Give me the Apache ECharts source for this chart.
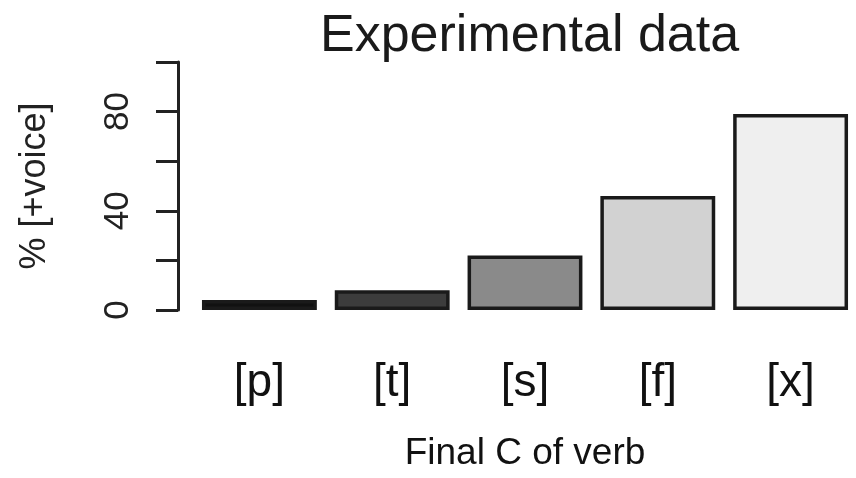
<!DOCTYPE html>
<html>
<head>
<meta charset="utf-8">
<script src="https://cdn.jsdelivr.net/npm/echarts@6/dist/echarts.min.js"></script>
<style>
html,body{margin:0;padding:0;background:#fff;}
#chart{width:856px;height:478px;}
</style>
</head>
<body>
<div id="chart"></div>
<script>
const categories = ['[p]', '[t]', '[s]', '[f]', '[x]'];
const values = [4, 8, 22, 46, 79];
const barColors = ['#111111', '#3c3c3c', '#8a8a8a', '#d2d2d2', '#efefef'];
const yTicksShown = [0, 40, 80];
const titleText = 'Experimental data';
const xName = 'Final C of verb';
const yName = '% [+voice]';

const chart = echarts.init(document.getElementById('chart'), null, {renderer: 'canvas'});
const font = 'Liberation Sans, Arial, Helvetica, sans-serif';
chart.setOption({
  animation: false,
  backgroundColor: '#ffffff',
  title: {
    text: titleText,
    left: 315,
    top: 6,
    textStyle: {fontFamily: font, fontSize: 52, fontWeight: 'normal', color: '#1a1a1a'}
  },
  grid: {left: 193, right: -1, top: 62, bottom: 168, containLabel: false, outerBoundsMode: 'none'},
  xAxis: {
    type: 'category',
    data: categories,
    axisLine: {show: false},
    axisTick: {show: false},
    axisLabel: {fontFamily: font, fontSize: 46, color: '#111', margin: 50},
    name: xName,
    nameLocation: 'middle',
    nameGap: 125,
    nameTextStyle: {fontFamily: font, fontSize: 37, color: '#111'}
  },
  yAxis: {
    type: 'value',
    min: 0, max: 100, interval: 20,
    offset: 15,
    splitLine: {show: false},
    axisLine: {show: true, lineStyle: {color: '#222', width: 3}},
    axisTick: {show: true, length: 22, lineStyle: {color: '#222', width: 3}},
    axisLabel: {
      rotate: 90, fontFamily: font, fontSize: 35, color: '#222', margin: 42,
      formatter: v => yTicksShown.includes(v) ? String(v) : ''
    },
    name: yName,
    nameLocation: 'middle',
    nameRotate: 90,
    nameGap: 125,
    nameTextStyle: {fontFamily: font, fontSize: 36, color: '#222'}
  },
  series: [{
    type: 'bar',
    data: values.map((v, i) => ({value: v, itemStyle: {color: barColors[i]}})),
    barCategoryGap: '13.5%',
    itemStyle: {borderColor: '#1a1a1a', borderWidth: 3.5}
  }]
});
</script>
</body>
</html>
